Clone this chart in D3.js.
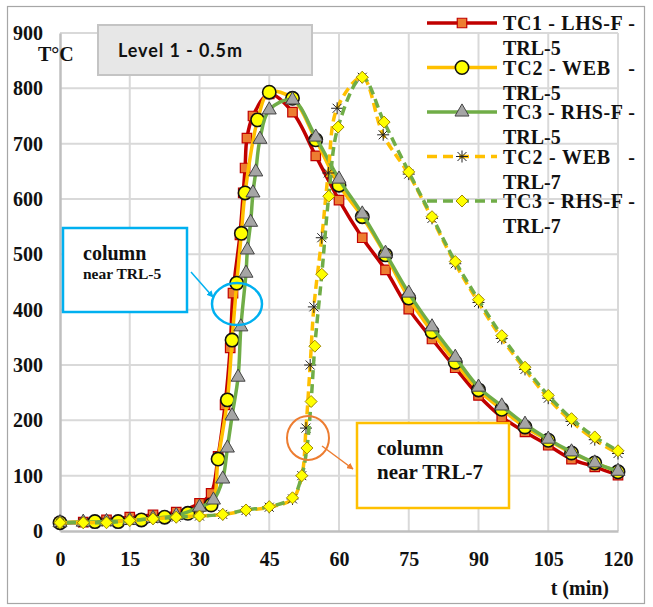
<!DOCTYPE html>
<html>
<head>
<meta charset="utf-8">
<script src="https://cdn.jsdelivr.net/npm/d3@7"></script>
<style>
  body { margin: 0; background: #fff; }
  text { font-family: "Liberation Serif", "Times New Roman", serif; font-weight: bold; fill: #111; }
</style>
</head>
<body>
<svg id="chart" width="653" height="607"></svg>
<script>
// data
const xTicks = [0, 15, 30, 45, 60, 75, 90, 105, 120],
    yTicks = [0, 100, 200, 300, 400, 500, 600, 700, 800, 900];

const tc1T = [0, 5, 10, 15, 20, 25, 30, 32.5, 34, 35.5, 36.6, 37.2, 38.7, 39.4, 39.8, 40.2, 41.5, 45, 50, 55, 60, 65, 70, 75, 80, 85, 90, 95, 100, 105, 110, 115, 120],
    tc1V = [15, 16, 20, 25, 29, 34, 50, 68, 135, 228, 331, 430, 535, 611, 656, 710, 750, 790, 757, 678, 598, 530, 472, 401, 347, 295, 245, 206, 179, 155, 130, 116, 101];

const tc2T = [0, 7.5, 12.5, 17.5, 22.5, 27.5, 32.5, 34, 36, 37, 38, 39, 39.8, 42.5, 45, 50, 55, 60, 65, 70, 75, 80, 85, 90, 95, 100, 105, 110, 115, 120],
    tc2V = [15, 17, 17, 20, 25, 32, 47, 130, 237, 345, 448, 538, 611, 743, 793, 782, 707, 625, 568, 499, 421, 360, 305, 255, 220, 188, 164, 141, 123, 107];

const tc3T = [0, 5, 10, 15, 20, 25, 30, 33, 35, 36, 37, 38.3, 38.9, 40, 40.3, 41, 41.5, 42.1, 43, 45, 50, 55, 60, 65, 70, 75, 80, 85, 90, 95, 100, 105, 110, 115, 120],
    tc3V = [15, 16, 17, 19, 23, 28, 43, 56, 94, 150, 208, 278, 369, 466, 508, 558, 611, 649, 708, 761, 779, 712, 636, 573, 502, 430, 369, 314, 260, 226, 193, 166, 143, 123, 108];

const tc2t7T = [0, 5, 10, 15, 20, 25, 30, 35, 40, 45, 50, 52, 52.9, 53.8, 54.6, 56.3, 57.7, 59.6, 65, 69.5, 75, 80, 85, 90, 95, 100, 105, 110, 115, 120],
    tc2t7V = [15, 15, 16, 19, 22, 25, 27, 30, 37, 43, 58, 100, 186, 300, 405, 530, 647, 764, 820, 716, 645, 565, 483, 413, 348, 292, 240, 198, 165, 140];

const tc3t7T = [0, 5, 10, 15, 20, 25, 30, 35, 40, 45, 50, 52, 53.1, 54, 54.8, 56.3, 57.8, 59.8, 65, 69.7, 75, 80, 85, 90, 95, 100, 105, 110, 115, 120],
    tc3t7V = [15, 15, 15, 19, 22, 25, 27, 30, 38, 44, 60, 100, 150, 234, 334, 464, 605, 730, 820, 739, 649, 568, 487, 418, 353, 296, 245, 203, 170, 145];

const seriesNames = [["TC1 - LHS-F -", "TRL-5"], ["TC2 - WEB   -", "TRL-5"], ["TC3 - RHS-F -", "TRL-5"],
                     ["TC2 - WEB   -", "TRL-7"], ["TC3 - RHS-F -", "TRL-7"]];

const svg = d3.select("#chart"),
    x = d3.scaleLinear().domain([0, 120]).range([60, 618]),
    y = d3.scaleLinear().domain([0, 900]).range([531, 33]);

const star = "M-6,0H6M0,-6V6M-4.5,-4.5L4.5,4.5M-4.5,4.5L4.5,-4.5",
    diamond = "M0,-6L6,0L0,6L-6,0Z";

const series = [
  {t: tc1T, v: tc1V, color: "#c00000", dash: null, marker: d3.symbol(d3.symbolSquare, 90)(), fill: "#ed7d31", stroke: "#c00000", sw: 1.2},
  {t: tc2T, v: tc2V, color: "#ffc000", dash: null, marker: d3.symbol(d3.symbolCircle, 140)(), fill: "#ffff00", stroke: "#111", sw: 1.6},
  {t: tc3T, v: tc3V, color: "#70ad47", dash: null, marker: d3.symbol(d3.symbolTriangle, 85)(), fill: "#a5a5a5", stroke: "#444", sw: 1},
  {t: tc2t7T, v: tc2t7V, color: "#ffc000", dash: "9,5", off: 0, marker: star, fill: "none", stroke: "#222", sw: 1},
  {t: tc3t7T, v: tc3t7V, color: "#70ad47", dash: "9,5", off: 7, marker: diamond, fill: "#ffff00", stroke: "#a08800", sw: 1}
];

// frame
svg.append("rect").attr("x", 7.5).attr("y", 6.5).attr("width", 637).attr("height", 597)
    .attr("fill", "#fff").attr("stroke", "#a6a6a6").attr("stroke-width", 1.2);

// grid
svg.append("g").selectAll("line").data(yTicks.slice(1)).enter().append("line")
    .attr("x1", x(0)).attr("x2", x(120)).attr("y1", d => y(d)).attr("y2", d => y(d))
    .attr("stroke", "#d9d9d9").attr("stroke-width", 2);
svg.append("g").selectAll("line").data(xTicks.slice(1)).enter().append("line")
    .attr("x1", d => x(d)).attr("x2", d => x(d)).attr("y1", y(0)).attr("y2", y(900))
    .attr("stroke", "#d9d9d9").attr("stroke-width", 2);

// axes
const yAxis = svg.append("g").attr("transform", "translate(" + x(0) + ",0)")
    .call(d3.axisLeft(y).tickValues(yTicks).tickSize(0).tickPadding(17));
const xAxis = svg.append("g").attr("transform", "translate(0," + y(0) + ")")
    .call(d3.axisBottom(x).tickValues(xTicks).tickSize(0).tickPadding(21));
[xAxis, yAxis].forEach(function(a) {
  a.select(".domain").attr("stroke", "#bfbfbf").attr("stroke-width", 2.5);
  a.selectAll("text").attr("font-size", 20).attr("font-family", "Liberation Serif").attr("font-weight", "bold").attr("fill", "#111");
});

svg.append("text").attr("x", 38).attr("y", 61).attr("font-size", 20).text("T°C");
svg.append("text").attr("x", 609).attr("y", 595).attr("font-size", 20).attr("text-anchor", "end").text("t (min)");

// title box
svg.append("rect").attr("x", 98).attr("y", 25).attr("width", 214).attr("height", 50)
    .attr("fill", "#e7e7e7").attr("stroke", "#c4c4c4").attr("stroke-width", 2);
svg.append("text").attr("x", 118).attr("y", 57).attr("font-size", 18)
    .style("font-family", "Lato, 'Open Sans', sans-serif").style("font-weight", "bold")
    .attr("textLength", 124).text("Level 1 - 0.5m");

// series
const line = d3.line().curve(d3.curveCatmullRom.alpha(0.5))
    .x(d => x(d[0])).y(d => y(d[1]));

series.forEach(function(s) {
  const pts = s.t.map((t, i) => [t, s.v[i]]);
  const g = svg.append("g");
  g.append("path").attr("d", line(pts)).attr("fill", "none")
      .attr("stroke", s.color).attr("stroke-width", 3.5)
      .attr("stroke-dasharray", s.dash).attr("stroke-dashoffset", s.off || 0);
  g.selectAll("path.m").data(pts).enter().append("path").attr("class", "m")
      .attr("d", s.marker)
      .attr("transform", d => "translate(" + x(d[0]) + "," + y(d[1]) + ")")
      .attr("fill", s.fill).attr("stroke", s.stroke).attr("stroke-width", s.sw);
});

// legend
const legend = svg.append("g").selectAll("g").data(series).enter().append("g")
    .attr("transform", (d, i) => "translate(0," + (23 + i * 44.5) + ")");
legend.append("line").attr("x1", 427).attr("x2", 497)
    .attr("stroke", d => d.color).attr("stroke-width", 3.5)
    .attr("stroke-dasharray", d => d.dash ? "10,6" : null);
legend.append("path").attr("d", d => d.marker).attr("transform", "translate(462,0)")
    .attr("fill", d => d.fill).attr("stroke", d => d.stroke).attr("stroke-width", d => d.sw);
legend.append("text").attr("x", 503).attr("y", 7).attr("font-size", 20)
    .attr("textLength", 132).style("white-space", "pre").text((d, i) => seriesNames[i][0]);
legend.append("text").attr("x", 503).attr("y", 32).attr("font-size", 20)
    .text((d, i) => seriesNames[i][1]);

// annotations
const defs = svg.append("defs");
[["blueHead", "#00b0f0"], ["orangeHead", "#ed7d31"]].forEach(function(h) {
  defs.append("marker").attr("id", h[0]).attr("viewBox", "0 0 10 10").attr("refX", 9).attr("refY", 5)
      .attr("markerWidth", 4.5).attr("markerHeight", 4.5).attr("orient", "auto")
    .append("path").attr("d", "M0,0L10,5L0,10Z").attr("fill", h[1]);
});

svg.append("rect").attr("x", 63).attr("y", 228).attr("width", 124).attr("height", 84)
    .attr("fill", "#fff").attr("stroke", "#00b0f0").attr("stroke-width", 2.5);
svg.append("text").attr("x", 83).attr("y", 260).attr("font-size", 20).text("column");
svg.append("text").attr("x", 83).attr("y", 279).attr("font-size", 15.5).text("near TRL-5");
svg.append("line").attr("x1", 191).attr("y1", 272).attr("x2", 213).attr("y2", 297)
    .attr("stroke", "#00b0f0").attr("stroke-width", 1.5).attr("marker-end", "url(#blueHead)");
svg.append("ellipse").attr("cx", 237).attr("cy", 304).attr("rx", 25).attr("ry", 21)
    .attr("fill", "none").attr("stroke", "#00b0f0").attr("stroke-width", 2.5);

svg.append("rect").attr("x", 357).attr("y", 423).attr("width", 152).attr("height", 85)
    .attr("fill", "#fff").attr("stroke", "#ffc000").attr("stroke-width", 2.5);
svg.append("text").attr("x", 377).attr("y", 455).attr("font-size", 21).text("column");
svg.append("text").attr("x", 377).attr("y", 479).attr("font-size", 21).text("near TRL-7");
svg.append("line").attr("x1", 322).attr("y1", 446).attr("x2", 353).attr("y2", 469)
    .attr("stroke", "#ed7d31").attr("stroke-width", 1.5).attr("marker-end", "url(#orangeHead)");
svg.append("ellipse").attr("cx", 308).attr("cy", 438).attr("rx", 21).attr("ry", 22)
    .attr("fill", "none").attr("stroke", "#ed7d31").attr("stroke-width", 2);
</script>
</body>
</html>
